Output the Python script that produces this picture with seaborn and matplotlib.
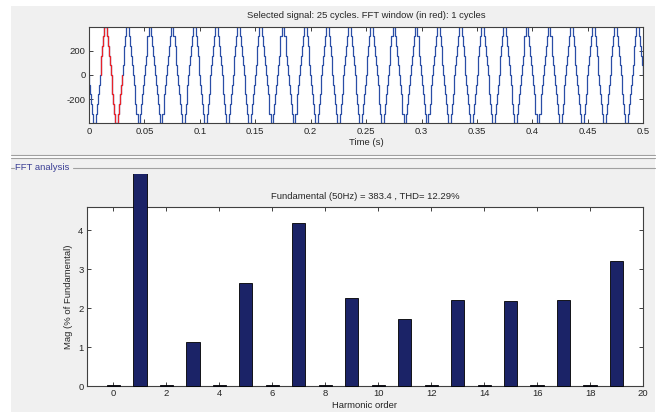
import numpy as np
import matplotlib
matplotlib.use("Agg")
import matplotlib.pyplot as plt
from matplotlib.patches import Rectangle
from matplotlib.lines import Line2D
from matplotlib.transforms import Bbox, TransformedBbox
import seaborn as sns

# ---- harmonic spectrum (% of fundamental) ----
harmonic_order = list(range(20))
mag_pct = [0.02, 100.0, 0.02, 1.12, 0.02, 2.64, 0.02, 4.18, 0.02, 2.25,
           0.02, 1.72, 0.02, 2.20, 0.02, 2.18, 0.02, 2.22, 0.02, 3.20]
harm_ticks = list(range(0, 21, 2))
mag_ticks = [0, 1, 2, 3, 4]

# ---- selected signal: multilevel staircase voltage ----
f0 = 50.0
n_cycles = 25
cell_voltage = 80.0                       # one level of the staircase
step_angles_deg = [8, 21, 35, 49, 68]     # quarter-wave switching angles
fft_window = [0.01, 0.03]                 # one cycle, shown in red
time_ticks = [0, 0.05, 0.1, 0.15, 0.2, 0.25, 0.3, 0.35, 0.4, 0.45, 0.5]
volt_ticks = [-200, 0, 200]

title_top = "Selected signal: 25 cycles. FFT window (in red): 1 cycles"
title_bottom = "Fundamental (50Hz) = 383.4 , THD= 12.29%"

BLUE = "#2b4ea6"
RED = "#e8232a"
NAVY = "#1b2367"
PANEL = "#f0f0f0"
EDGE = "#a0a0a0"
AXC = "#404040"


def staircase():
    """Step points (t, v) of the staircase over all cycles."""
    half = [(a, k) for k, a in enumerate(step_angles_deg, 1)]
    half += [(180 - a, k - 1) for k, a in reversed(list(enumerate(step_angles_deg, 1)))]
    cycle = half + [(180 + a, -lvl) for a, lvl in half]
    ts, vs = [0.0], [0.0]
    level = 0
    for c in range(n_cycles):
        for ang, new in cycle:
            t = (c + ang / 360.0) / f0
            ts += [t, t]
            vs += [-level * cell_voltage, -new * cell_voltage]
            level = new
    ts.append(n_cycles / f0)
    vs.append(-level * cell_voltage)
    return np.array(ts), np.array(vs)


sns.set_theme(style="white")
plt.rcParams["font.family"] = ["Liberation Sans", "DejaVu Sans"]
plt.rcParams["axes.unicode_minus"] = False
FS = 6.8

W, H = 661, 413
fig = plt.figure(figsize=(W / 100, H / 100), dpi=100, facecolor="white")


def fx(px):
    return px / W


def fy(py):
    return 1 - py / H


# window chrome
fig.patches.append(Rectangle((fx(11), fy(155)), fx(644), fy(6) - fy(155),
                             transform=fig.transFigure, facecolor=PANEL,
                             edgecolor="none", zorder=-10))
fig.patches.append(Rectangle((fx(11), fy(412)), fx(644), fy(158) - fy(412),
                             transform=fig.transFigure, facecolor=PANEL,
                             edgecolor="none", zorder=-10))
for yy in (155, 158):
    fig.lines.append(Line2D([fx(11), fx(655)], [fy(yy), fy(yy)],
                            transform=fig.transFigure, color=EDGE, lw=0.8))
fig.lines.append(Line2D([fx(11), fx(14)], [fy(168), fy(168)],
                        transform=fig.transFigure, color=EDGE, lw=0.8))
fig.lines.append(Line2D([fx(73), fx(655)], [fy(168), fy(168)],
                        transform=fig.transFigure, color=EDGE, lw=0.8))
fig.text(fx(15), fy(168), "FFT analysis", color="#3b3f95", fontsize=FS,
         va="center", ha="left")


def style_axes(ax):
    ax.set_facecolor("white")
    for s in ax.spines.values():
        s.set_color(AXC)
        s.set_linewidth(0.8)
        s.set_visible(True)
    ax.tick_params(direction="in", length=3, width=0.7, color=AXC,
                   labelsize=FS, labelcolor="#262626", pad=2.5,
                   top=True, right=True, bottom=True, left=True)


# ---- top: time-domain signal ----
ax1 = fig.add_axes([fx(89), fy(123.3), fx(643.3 - 89), fy(26.7) - fy(123.3)])
style_axes(ax1)
t, v = staircase()
sns.lineplot(x=t, y=v, ax=ax1, color=BLUE, lw=0.9, sort=False, estimator=None)
m = (t >= fft_window[0]) & (t <= fft_window[1])
sns.lineplot(x=t[m], y=v[m], ax=ax1, color=RED, lw=0.9, sort=False, estimator=None)
ax1.set_xlim(0, 0.5)
ax1.set_ylim(-400, 400)
ax1.set_xticks(time_ticks)
ax1.set_xticklabels([f"{x:g}" for x in time_ticks])
ax1.set_yticks(volt_ticks)
ax1.set_xlabel("Time (s)", fontsize=FS, color="#262626", labelpad=1.5)
ax1.set_ylabel("")
ax1.set_title(title_top, fontsize=FS, color="#262626", pad=6)

# ---- bottom: harmonic spectrum ----
ax2 = fig.add_axes([fx(87), fy(386), fx(643 - 87), fy(207) - fy(386)])
style_axes(ax2)
sns.barplot(x=harmonic_order, y=mag_pct, ax=ax2, native_scale=True, width=0.5,
            color=NAVY, edgecolor="black", linewidth=0.6, saturation=1)
ax2.set_xlim(-1, 20)
ax2.set_ylim(0, 4.6)
ax2.set_xticks(harm_ticks)
ax2.set_yticks(mag_ticks)
ax2.set_xlabel("Harmonic order", fontsize=FS, color="#262626", labelpad=1.5)
ax2.set_ylabel("Mag (% of Fundamental)", fontsize=FS, color="#262626", labelpad=4)
ax2.set_title(title_bottom, fontsize=FS, color="#262626", pad=6)

# the fundamental bar runs past the axes, up to the panel edge
clip = TransformedBbox(Bbox.from_extents(0, 0, 1, fy(174)), fig.transFigure)
for p in ax2.patches:
    p.set_clip_box(clip)
    p.set_zorder(3)

fig.savefig("out.png", dpi=100, facecolor="white")
